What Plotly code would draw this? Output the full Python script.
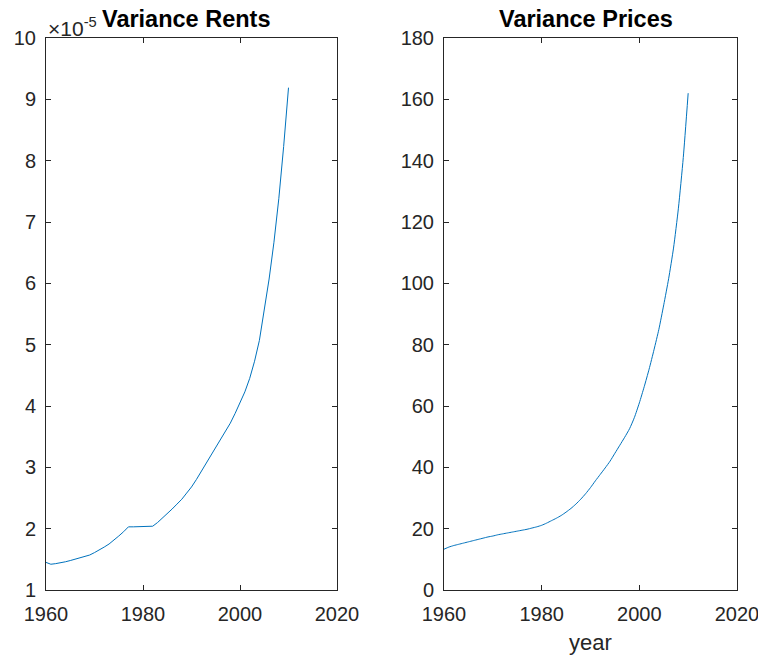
import plotly.graph_objects as go

years = list(range(1960, 2011))

# Variance of rents (in units of 1e-5)
rents_var = [1.45, 1.42, 1.43, 1.44, 1.46, 1.48, 1.50, 1.52, 1.54, 1.57,
             1.61, 1.65, 1.70, 1.75, 1.81, 1.88, 1.95, 2.03, 2.03, 2.03,
             2.03, 2.04, 2.04, 2.10, 2.17, 2.24, 2.32, 2.40, 2.48, 2.58,
             2.68, 2.80, 2.93, 3.06, 3.19, 3.32, 3.45, 3.58, 3.72, 3.88,
             4.05, 4.23, 4.45, 4.73, 5.07, 5.54, 6.07, 6.67, 7.38, 8.23,
             9.19]

# Variance of prices
prices_var = [13.3, 14.0, 14.5, 14.9, 15.3, 15.7, 16.1, 16.5, 16.9, 17.3,
              17.6, 18.0, 18.3, 18.6, 18.9, 19.2, 19.5, 19.8, 20.2, 20.6,
              21.1, 21.8, 22.6, 23.4, 24.3, 25.4, 26.6, 28.0, 29.6, 31.4,
              33.4, 35.6, 37.7, 39.8, 42.0, 44.6, 47.2, 49.8, 52.6, 56.3,
              61.0, 66.3, 72.0, 78.3, 85.0, 93.0, 101.5, 111.5, 124.5, 141.0,
              162.0]

x_ticks = [1960, 1980, 2000, 2020]
rent_ticks = list(range(1, 11))
price_ticks = list(range(0, 181, 20))

W, H = 758, 658
FONT = "Liberation Sans, Arial, sans-serif"
AX = "#262626"
LINE = "#0072BD"

fig = go.Figure()
fig.add_trace(go.Scatter(x=years, y=rents_var, mode="lines",
                         line=dict(color=LINE, width=1), xaxis="x", yaxis="y",
                         showlegend=False))
fig.add_trace(go.Scatter(x=years, y=prices_var, mode="lines",
                         line=dict(color=LINE, width=1, shape="spline", smoothing=0.6),
                         xaxis="x2", yaxis="y2", showlegend=False))

def px_x(p):
    return p / W

def px_y(p):
    return 1 - p / H

common = dict(showgrid=False, zeroline=False, showline=True, linecolor=AX,
              linewidth=1, mirror="ticks", ticks="inside", ticklen=5,
              tickcolor=AX, tickwidth=1, automargin=False,
              ticklabeloverflow="allow",
              tickfont=dict(family=FONT, size=20, color=AX))

fig.update_layout(
    width=W, height=H,
    margin=dict(l=0, r=0, t=0, b=0),
    paper_bgcolor="white", plot_bgcolor="white",
    xaxis=dict(domain=[px_x(46), px_x(337)], range=[1960, 2020],
               tickvals=x_ticks, anchor="y", ticklabelstandoff=6, **common),
    yaxis=dict(domain=[px_y(590), px_y(38)], range=[1, 10],
               tickvals=rent_ticks, anchor="x", ticklabelstandoff=5, **common),
    xaxis2=dict(domain=[px_x(444), px_x(737)], range=[1960, 2020],
                tickvals=x_ticks, anchor="y2", ticklabelstandoff=6, **common),
    yaxis2=dict(domain=[px_y(590), px_y(38)], range=[0, 180],
                tickvals=price_ticks, anchor="x2", ticklabelstandoff=5, **common),
)

annotations = [
    dict(text="<b>Variance Rents</b>", x=px_x(186), y=px_y(19),
         xanchor="center", yanchor="middle", size=23.5, color="#000000"),
    dict(text="<b>Variance Prices</b>", x=px_x(586), y=px_y(19),
         xanchor="center", yanchor="middle", size=23.5, color="#000000"),
    dict(text="×10<sup>-5</sup>", x=px_x(46), y=px_y(27),
         xanchor="left", yanchor="middle", size=21, color=AX),
    dict(text="year", x=px_x(590), y=px_y(642),
         xanchor="center", yanchor="middle", size=22, color=AX),
]
anns = []
for a in annotations:
    size = a.pop("size")
    color = a.pop("color")
    a.update(xref="paper", yref="paper", showarrow=False,
             font=dict(family=FONT, size=size, color=color))
    anns.append(a)
fig.update_layout(annotations=anns)

fig.write_html("out.html",
               config={"displayModeBar": False},
               post_script="document.body.style.margin='0';document.body.style.overflow='hidden';")
